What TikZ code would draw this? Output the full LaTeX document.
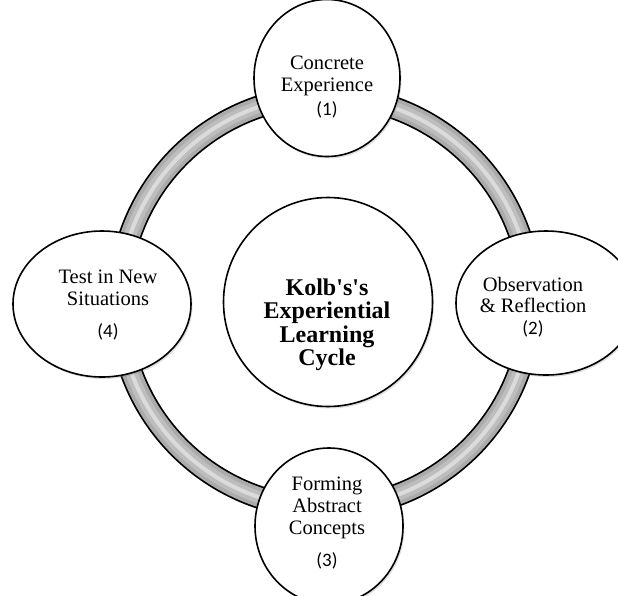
\documentclass[tikz,border=0pt]{standalone}
\usepackage{fontspec}
\setmainfont{Liberation Serif}
\newfontfamily\numfont{Carlito}
\usetikzlibrary{shapes.geometric,shadows}

\tikzset{
  stage/.style={ellipse,draw,line width=1.6pt,fill=white,inner sep=0pt,
    drop shadow={opacity=0.25,shadow xshift=1.5pt,shadow yshift=-2pt}},
  stagetext/.style={align=center,font=\fontsize{20.5}{21.7}\selectfont},
  hubtext/.style={align=center,font=\fontsize{24}{23.5}\selectfont\bfseries}
}
\newcommand{\stagenum}[1]{{\fontsize{19}{21}\numfont(#1)}}

\begin{document}
\begin{tikzpicture}[x=1pt,y=-1pt]
  \useasboundingbox (0,0) rectangle (618,595);
  \clip (0,0) rectangle (618,595);

  % the cycle ring
  \coordinate (mid) at (325,302);
  \draw[line width=23pt,black] (mid) circle[radius=206pt];
  \draw[line width=19.5pt,black!33] (mid) circle[radius=206pt];
  \draw[line width=12pt,black!26] (mid) circle[radius=206pt];
  \draw[line width=4pt,black!14] (mid) circle[radius=206pt];

  % stages
  \node[stage,minimum width=146pt,minimum height=157pt] (ce) at (327,78) {};
  \node[stage,minimum width=180pt,minimum height=144pt] (or) at (546,303) {};
  \node[stage,minimum width=148pt,minimum height=156pt] (ac) at (329,526) {};
  \node[stage,minimum width=178pt,minimum height=146pt] (ae) at (102,304) {};
  \node[stage,circle,minimum size=209pt] (hub) at (328,302) {};

  % labels
  \node[stagetext] (cetext) at (327,87) {Concrete\\Experience\\[2pt]\stagenum{1}};
  \node[stagetext] (ortext) at (533,307) {Observation\\\& Reflection\\\stagenum{2}};
  \node[stagetext] (actext) at (327,523) {Forming\\Abstract\\Concepts\\[10pt]\stagenum{3}};
  \node[stagetext] (aetext) at (108,305) {Test in New\\Situations\\[10pt]\stagenum{4}};
  \node[hubtext] (hubtitle) at (327,325) {Kolb\textquotesingle s\textquotesingle s\\Experiential\\Learning\\Cycle};
\end{tikzpicture}
\end{document}
